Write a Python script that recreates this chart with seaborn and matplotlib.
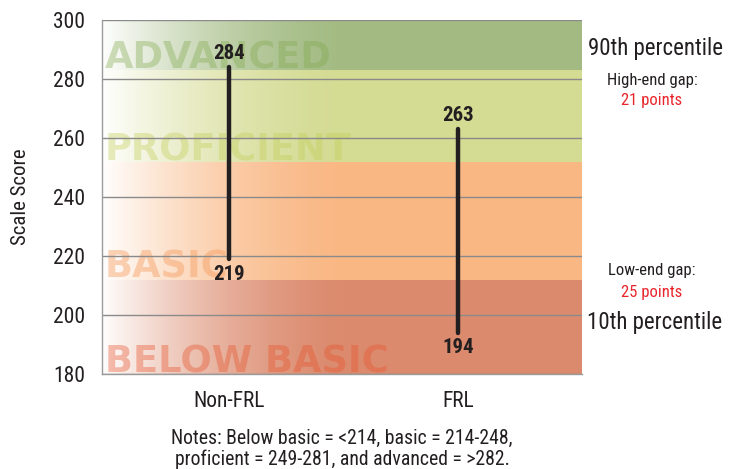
import numpy as np
import pandas as pd
import matplotlib
matplotlib.use("Agg")
import matplotlib.pyplot as plt
import seaborn as sns

# ---- data ----
groups = ["Non-FRL", "FRL"]
p10 = [219, 194]
p90 = [284, 263]
band_names = ["BELOW BASIC", "BASIC", "PROFICIENT", "ADVANCED"]
band_low = [180, 212, 251.8, 283]
band_high = [212, 251.8, 283, 300]
band_colors = ["#db8a6d", "#f9b784", "#d4db92", "#a3bb83"]
band_text_colors = ["#e7532c", "#f69959", "#c2ce56", "#82aa4e"]
band_text_alpha = [0.38, 0.42, 0.38, 0.38]
yticks = [180, 200, 220, 240, 260, 280, 300]
notes = ["Notes: Below basic = <214, basic = 214-248,",
         "proficient = 249-281, and advanced = >282."]

sns.set_theme(style="white")
cond = ["Roboto Condensed", "Archivo Narrow", "DejaVu Sans"]
plt.rcParams["font.family"] = cond

W, H = 729, 469
fig = plt.figure(figsize=(W / 100, H / 100), dpi=100)
ax = fig.add_axes([102 / W, 1 - 374 / H, 480 / W, 354 / H])

xmin, xmax = -0.555, 1.54

for lo, hi, c in zip(band_low, band_high, band_colors):
    ax.axhspan(lo, hi, color=c, lw=0, zorder=0)

# white fade on the left
gx = np.linspace(0, 1, 400)
alpha = np.clip(1 - gx, 0, 1) ** 1.7
rgba = np.ones((1, 400, 4))
rgba[0, :, 3] = alpha
ax.imshow(rgba, extent=[xmin, 0.55, 180, 300], aspect="auto", zorder=1,
          interpolation="bilinear")

for name, lo, tc, ta in zip(band_names, band_low, band_text_colors, band_text_alpha):
    ax.text(xmin + 0.013, lo + 0.6, name, color=tc, alpha=ta, fontsize=26.5,
            fontweight="bold", family="DejaVu Sans", ha="left", va="baseline",
            zorder=2, clip_on=True)

for yv in yticks:
    ax.axhline(yv, color="#8a8a8a", lw=1.0, zorder=3)

df = pd.DataFrame({
    "group": groups * 2,
    "score": p10 + p90,
})
sns.lineplot(data=df, x="group", y="score", units="group", estimator=None,
             color="#231f20", lw=3.2, ax=ax, zorder=5, legend=False)
ax.set_xlim(xmin, xmax)
ax.set_ylim(180, 300)

for i, (lo, hi) in enumerate(zip(p10, p90)):
    ax.annotate(str(hi), (i, hi), xytext=(0, 3), textcoords="offset points",
                ha="center", va="bottom", fontsize=15, fontweight="bold",
                color="#231f20", zorder=6)
    ax.annotate(str(lo), (i, lo), xytext=(0, -4), textcoords="offset points",
                ha="center", va="top", fontsize=15, fontweight="bold",
                color="#231f20", zorder=6)

ax.set_yticks(yticks)
ax.set_yticklabels([str(v) for v in yticks], fontsize=15.5, color="#231f20")
ax.set_xticks([0, 1])
ax.set_xticklabels(groups, fontsize=15.5, color="#231f20")
ax.tick_params(axis="x", pad=12, length=0)
ax.tick_params(axis="y", pad=12, length=0)
ax.set_xlabel("")
ax.set_ylabel("Scale Score", fontsize=15, color="#231f20", labelpad=17)

for s in ["top", "right"]:
    ax.spines[s].set_visible(False)
for s in ["left", "bottom"]:
    ax.spines[s].set_color("#9a9a9a")
    ax.spines[s].set_linewidth(1.0)
    ax.spines[s].set_zorder(4)

def ftext(x, y, s, **kw):
    fig.text(x / W, 1 - y / H, s, ha="center", va="center", **kw)

ftext(655, 48, "90th percentile", fontsize=16.5, color="#231f20")
ftext(652, 80, "High-end gap:", fontsize=12, color="#231f20")
ftext(652, 101, "21 points", fontsize=12, color="#e8262c")
ftext(652, 271, "Low-end gap:", fontsize=12, color="#231f20")
ftext(652, 292, "25 points", fontsize=12, color="#e8262c")
ftext(655, 322, "10th percentile", fontsize=16.5, color="#231f20")
ftext(342, 438, notes[0], fontsize=14.2, color="#231f20")
ftext(342, 459, notes[1], fontsize=14.2, color="#231f20")

fig.savefig("out.png", dpi=100)
